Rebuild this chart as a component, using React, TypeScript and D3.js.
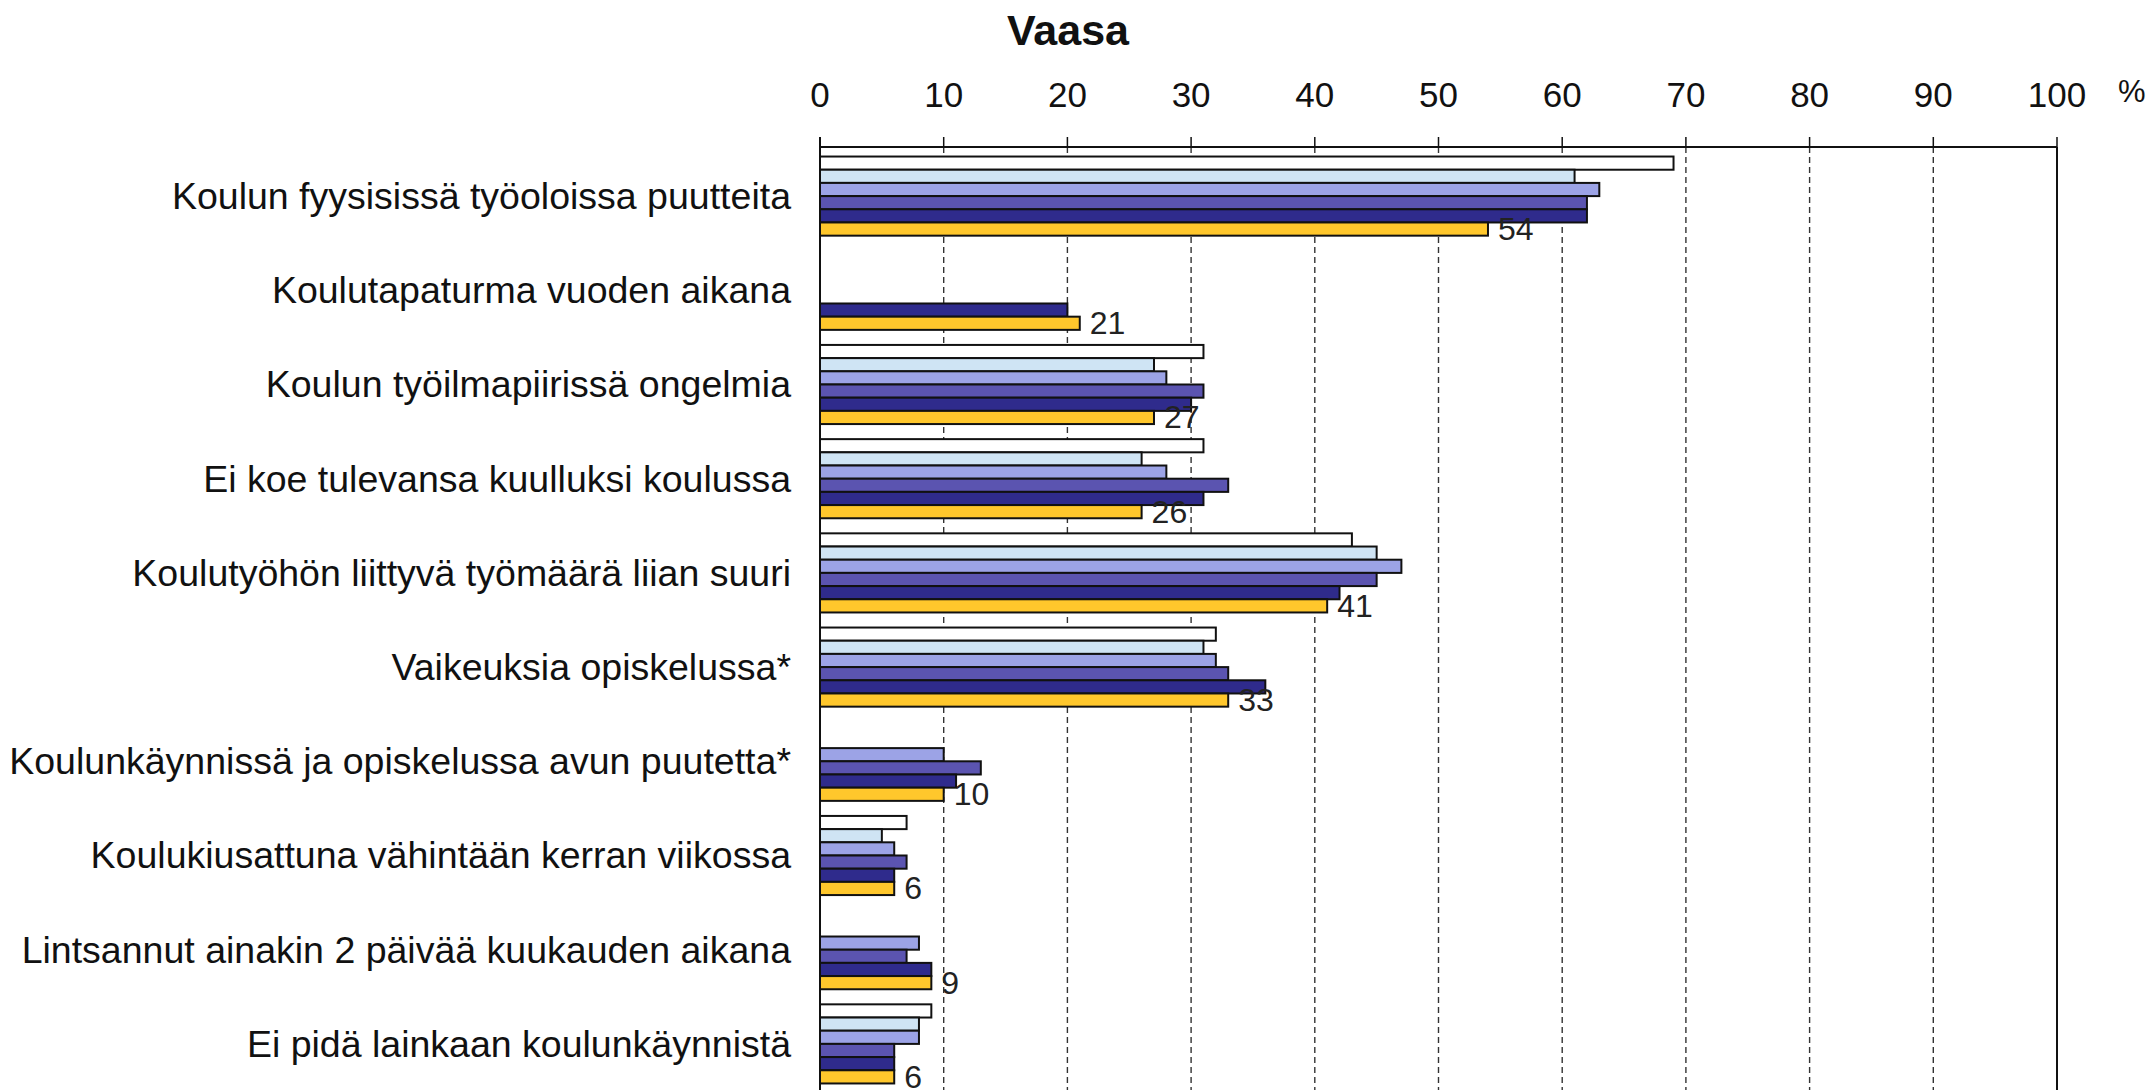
import React from 'react';
import * as d3 from 'd3';

// categories (top to bottom)
const categories = [
  'Koulun fyysisissä työoloissa puutteita',
  'Koulutapaturma vuoden aikana',
  'Koulun työilmapiirissä ongelmia',
  'Ei koe tulevansa kuulluksi koulussa',
  'Koulutyöhön liittyvä työmäärä liian suuri',
  'Vaikeuksia opiskelussa*',
  'Koulunkäynnissä ja opiskelussa avun puutetta*',
  'Koulukiusattuna vähintään kerran viikossa',
  'Lintsannut ainakin 2 päivää kuukauden aikana',
  'Ei pidä lainkaan koulunkäynnistä',
];

// survey rounds, oldest first
const seriesNames = ['2000/01', '2002/03', '2004/05', '2006/07', '2008/09', '2010/11'];
const seriesColors = ['#ffffff', '#cfe4f4', '#9ca3e6', '#5b54b0', '#2f2b8c', '#ffc72c'];

const v2000 = [69, null, 31, 31, 43, 32, null, 7, null, 9];
const v2002 = [61, null, 27, 26, 45, 31, null, 5, null, 8];
const v2004 = [63, null, 28, 28, 47, 32, 10, 6, 8, 8];
const v2006 = [62, null, 31, 33, 45, 33, 13, 7, 7, 6];
const v2008 = [62, 20, 30, 31, 42, 36, 11, 6, 9, 6];
const v2010 = [54, 21, 27, 26, 41, 33, 10, 6, 9, 6];

const allSeries = [v2000, v2002, v2004, v2006, v2008, v2010];
const xTicks = [0, 10, 20, 30, 40, 50, 60, 70, 80, 90, 100];

const font = '"Liberation Sans", Arial, Helvetica, sans-serif';

export default function App() {
  const W = 2154;
  const H = 1090;
  const left = 820;
  const right = 2057;
  const top = 147;

  const x = d3.scaleLinear().domain([0, 100]).range([left, right]);
  const y = d3
    .scaleBand()
    .domain(categories)
    .range([149, 1091])
    .paddingInner(0.16)
    .paddingOuter(0.08);
  const ySub = d3
    .scaleBand()
    .domain(seriesNames)
    .range([0, y.bandwidth()]);

  const last = allSeries.length - 1;

  return (
    <svg
      width={W}
      height={H}
      style={{ position: 'absolute', left: 0, top: 0, background: '#fff' }}
      fontFamily={font}
    >
      {/* title */}
      <text x={1068} y={45} textAnchor="middle" fontSize={43} fontWeight="bold" fill="#111">
        Vaasa
      </text>

      {/* tick labels + ticks */}
      {xTicks.map((t) => (
        <g key={t}>
          <text x={x(t)} y={107} textAnchor="middle" fontSize={35} fill="#111">
            {t}
          </text>
          <line x1={x(t)} x2={x(t)} y1={137} y2={top} stroke="#111" strokeWidth={1.5} />
        </g>
      ))}
      <text x={2118} y={102} fontSize={31} fill="#111">
        %
      </text>

      {/* dashed grid */}
      {xTicks.slice(1, -1).map((t) => (
        <line
          key={'g' + t}
          x1={x(t)}
          x2={x(t)}
          y1={top}
          y2={H}
          stroke="#333"
          strokeWidth={1.4}
          strokeDasharray="6,4"
        />
      ))}

      {/* bars */}
      {categories.map((c, ci) => (
        <g key={c} transform={`translate(0,${y(c)})`}>
          {allSeries.map((s, si) => {
            const v = s[ci];
            if (v == null) return null;
            return (
              <rect
                key={si}
                x={x(0)}
                y={ySub(seriesNames[si])}
                width={x(v) - x(0)}
                height={ySub.bandwidth()}
                fill={seriesColors[si]}
                stroke="#111"
                strokeWidth={2}
              />
            );
          })}
          {allSeries[last][ci] != null && (
            <text
              x={x(allSeries[last][ci] as number) + 10}
              y={(ySub(seriesNames[last]) as number) + ySub.bandwidth() / 2 + 11}
              fontSize={32}
              fill="#222"
            >
              {allSeries[last][ci]}
            </text>
          )}
          <text
            x={791}
            y={y.bandwidth() / 2 + 13}
            textAnchor="end"
            fontSize={37.5}
            fill="#111"
          >
            {c}
          </text>
        </g>
      ))}

      {/* frame */}
      <line x1={left} x2={right} y1={top} y2={top} stroke="#111" strokeWidth={2} />
      <line x1={left} x2={left} y1={top - 10} y2={H} stroke="#111" strokeWidth={2} />
      <line x1={right} x2={right} y1={top} y2={H} stroke="#111" strokeWidth={2} />
    </svg>
  );
}
